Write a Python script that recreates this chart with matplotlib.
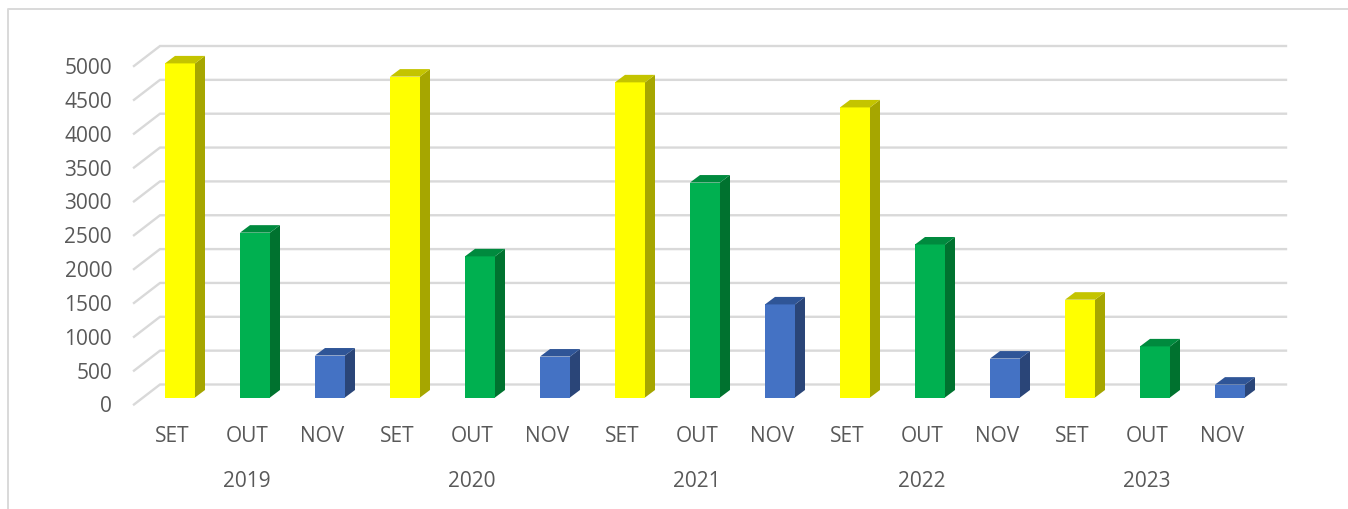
import matplotlib.pyplot as plt
from matplotlib.lines import Line2D
from matplotlib.transforms import ScaledTranslation

plt.rcParams["font.family"] = ["Open Sans", "DejaVu Sans"]

months = ["SET", "OUT", "NOV"] * 5
years = ["2019", "2020", "2021", "2022", "2023"]
values = [4935, 2435, 620, 4740, 2085, 605, 4655, 3175, 1375, 4285, 2260, 575, 1445, 755, 190]
y_ticks = [0, 500, 1000, 1500, 2000, 2500, 3000, 3500, 4000, 4500, 5000]

W, H = 1348, 510
front_col = ["#FFFF00", "#00B050", "#4472C4"]
side_col = ["#A6A600", "#00722F", "#2A4578"]
top_col = ["#C4C400", "#008A3E", "#2F5597"]
grid_col = "#D9D9D9"
text_col = "#595959"

fig = plt.figure(figsize=(W / 100, H / 100), dpi=100)
# axes box runs from the front-left grid corner to the back wall
ax = fig.add_axes([134 / W, 1 - 405.5 / H, (1286 - 134) / W, (405.5 - 47.5) / H])
ax.set_xlim(-38 / 75, 1114 / 75)
px_y = 5000 / 338.5
ax.set_ylim(0, 358 * px_y)

# pseudo-3D offsets
wall_dx, wall_dy = 26 / 75, 20 * px_y
base = 7 * px_y
bar_l, bar_r = -7 / 75, 23 / 75
dx, dy = 10 / 75, 7.5 * px_y

x0 = ax.get_xlim()[0]
for v in y_ticks:
    ax.plot([x0, x0 + wall_dx, ax.get_xlim()[1]], [v, v + wall_dy, v + wall_dy],
            color=grid_col, lw=1.7, clip_on=False, zorder=1, solid_joinstyle="miter")

for i, v in enumerate(values):
    c = i % 3
    l, r = i + bar_l, i + bar_r
    b, t = base, base + v
    ax.fill([l, r, r, l], [b, b, t, t], color=front_col[c], lw=0, zorder=3)
    ax.fill([r, r + dx, r + dx, r], [b, b + dy, t + dy, t], color=side_col[c], lw=0, zorder=3)
    ax.fill([l, r, r + dx, l + dx], [t, t, t + dy, t + dy], color=top_col[c], lw=0, zorder=3)

ax.set_yticks(y_ticks)
ax.set_xticks(range(len(months)))
ax.set_xticklabels(months)
ax.tick_params(axis="y", length=0, pad=15.8, labelsize=15, labelcolor=text_col)
ax.tick_params(axis="x", length=0, pad=14.7, labelsize=15, labelcolor=text_col)
# value labels sit a touch above the grid corners
for lab in ax.get_yticklabels():
    lab.set_transform(lab.get_transform() + ScaledTranslation(0, 1.0 / 100, fig.dpi_scale_trans))
for s in ax.spines.values():
    s.set_visible(False)

sec = ax.secondary_xaxis("bottom")
sec.set_xticks([1, 4, 7, 10, 13])
sec.set_xticklabels(years)
sec.tick_params(axis="x", length=0, pad=47.4, labelsize=15, labelcolor=text_col)
sec.spines["bottom"].set_visible(False)

# outer chart frame
fig.add_artist(Line2D([7.5 / W, 7.5 / W, 1], [0, 1 - 10 / H, 1 - 10 / H], color=grid_col, lw=1.4))

fig.savefig("out.png", dpi=100)
